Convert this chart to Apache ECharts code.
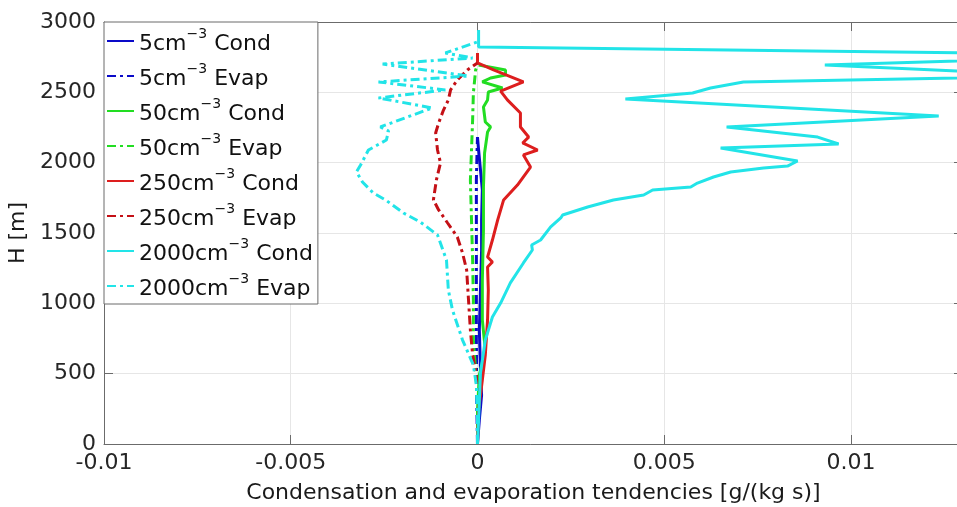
<!DOCTYPE html>
<html>
<head>
<meta charset="utf-8">
<script src="https://cdn.jsdelivr.net/npm/echarts@6/dist/echarts.min.js"></script>
<style>
html,body{margin:0;padding:0;background:#fff;}
#c{width:957px;height:507px;}
</style>
</head>
<body>
<div id="c"></div>
<script>
// ---- data: [tendency (g/(kg s)), height (m)] ----
const cond5 = [[0,0],[0.00005,171],[0.00011,348],[0.00008,526],[0.00005,810],[0.00008,1095],[0.00011,1379],[0.00011,1592],[0.00013,1806],[0.00008,1948],[0.00003,2090],[0,2182]];
const evap5 = [[0,0],[-0.00002,313],[-0.00003,739],[-0.00003,1095],[-0.00003,1521],[-0.00003,1877],[-0.00001,2090],[0,2182]];
const cond50 = [[0,0],[0,242],[0.00005,491],[0.00021,668],[0.00013,882],[0.00013,1166],[0.00016,1521],[0.00016,1827],[0.00019,2069],[0.00027,2218],[0.00035,2254],[0.00021,2289],[0.00016,2396],[0.00027,2446],[0.00029,2502],[0.00067,2531],[0.00013,2574],[0.00035,2602],[0.00075,2623],[0.00075,2659],[0.00003,2694]];
const evap50 = [[0,0],[0,313],[-0.00005,526],[-0.00011,739],[-0.00011,1024],[-0.00013,1308],[-0.00016,1592],[-0.00019,1877],[-0.00016,2090],[-0.00013,2303],[-0.00011,2495],[-0.00005,2659],[0,2694]];
const cond250 = [[0,0],[0.00003,242],[0.00013,455],[0.00021,633],[0.00027,882],[0.00029,1095],[0.00027,1258],[0.0004,1294],[0.00027,1329],[0.0004,1450],[0.00054,1592],[0.0007,1735],[0.00107,1841],[0.00142,1969],[0.00123,2055],[0.00161,2090],[0.00121,2140],[0.00137,2182],[0.00115,2254],[0.00115,2353],[0.0008,2446],[0.00062,2509],[0.00123,2574],[0.00043,2659],[0,2709],[0,2780]];
const evap250 = [[0,0],[0,313],[-0.00003,491],[-0.00013,633],[-0.00019,810],[-0.00024,1024],[-0.00029,1237],[-0.0004,1358],[-0.00054,1472],[-0.0008,1571],[-0.00104,1664],[-0.00118,1735],[-0.0011,1877],[-0.00099,1998],[-0.00107,2090],[-0.00112,2211],[-0.00104,2282],[-0.00091,2374],[-0.00078,2446],[-0.00072,2517],[-0.00054,2588],[-0.00027,2659],[0,2709]];
const cond2000 = [[0,0],[0.00003,171],[0.00008,505],[0.00021,739],[0.0004,903],[0.00062,1002],[0.00088,1145],[0.00123,1287],[0.00147,1379],[0.00145,1415],[0.00169,1450],[0.00196,1543],[0.00223,1607],[0.00228,1628],[0.00295,1685],[0.00364,1735],[0.00445,1770],[0.00469,1806],[0.00571,1827],[0.00589,1855],[0.00632,1898],[0.00678,1934],[0.00766,1962],[0.0083,1976],[0.00857,2012],[0.00651,2104],[0.00967,2133],[0.00911,2182],[0.00667,2254],[0.01235,2332],[0.00396,2453],[0.00576,2495],[0.00624,2531],[0.00712,2574],[0.0158,2616],[0.0093,2694],[0.0179,2765],[0.00003,2822],[0.00003,2943]];
const evap2000 = [[0,0],[0,171],[-0.00003,419],[-0.00011,562],[-0.0004,739],[-0.00067,953],[-0.00078,1095],[-0.00083,1308],[-0.00107,1486],[-0.00153,1578],[-0.00198,1642],[-0.00246,1735],[-0.00279,1784],[-0.00308,1863],[-0.00324,1934],[-0.00313,1983],[-0.00292,2090],[-0.00244,2161],[-0.00238,2225],[-0.0026,2254],[-0.00121,2389],[-0.00265,2460],[-0.00086,2517],[-0.00265,2574],[-0.00024,2616],[-0.00254,2701],[-0.00013,2744],[-0.00086,2780],[0,2858]];

const concentrations = ['5','5','50','50','250','250','2000','2000'];
const kinds = ['Cond','Evap','Cond','Evap','Cond','Evap','Cond','Evap'];
const seriesData = [cond5, evap5, cond50, evap50, cond250, evap250, cond2000, evap2000];
const colors = ['#0a0ac8','#0a0ac8','#22dd22','#22dd22','#dd1e1e','#c41016','#22e4e8','#22e4e8'];
const xTicks = {min:-0.01, max:0.013, interval:0.005};
const yTicks = {min:0, max:3000, interval:500};

const FONT = 'DejaVu Sans';
const names = concentrations.map((c,i)=> c + 'cm-3 ' + kinds[i]);
const dashDot = [9,4,3,4];

const series = seriesData.map((d,i)=>({
  name: names[i],
  type: 'line',
  data: d,
  xAxisIndex: 0, yAxisIndex: 0,
  symbol: 'none', showSymbol: false,
  animation: false,
  clip: true,
  lineStyle: {color: colors[i], width: 3, type: kinds[i]==='Evap' ? dashDot : 'solid'},
  itemStyle: {color: colors[i]},
  z: 2 + i
}));

const axisColor = '#6b6b6b';
const chart = echarts.init(document.getElementById('c'), null, {renderer:'canvas'});
chart.setOption({
  animation: false,
  backgroundColor: '#fff',
  grid: {left:104, top:22, right:-6, bottom:63, containLabel:false, outerBoundsMode:'none'},
  xAxis: [{
    type:'value', position:'bottom', min:xTicks.min, max:xTicks.max, interval:xTicks.interval,
    name:'Condensation and evaporation tendencies [g/(kg s)]', nameLocation:'middle', nameGap:38,
    nameTextStyle:{fontFamily:FONT, fontSize:22, color:'#1a1a1a'},
    axisLine:{show:true, onZero:false, lineStyle:{color:axisColor, width:1}},
    axisTick:{show:true, inside:true, length:9, lineStyle:{color:axisColor}},
    axisLabel:{fontFamily:FONT, fontSize:22, color:'#262626', margin:8, showMaxLabel:false},
    splitLine:{show:true, lineStyle:{color:'#e6e6e6', width:1}}
  },{
    type:'value', position:'top', min:xTicks.min, max:xTicks.max, interval:xTicks.interval,
    axisLine:{show:true, onZero:false, lineStyle:{color:axisColor, width:1}},
    axisTick:{show:true, inside:true, length:9, lineStyle:{color:axisColor}},
    axisLabel:{show:false}, splitLine:{show:false}
  }],
  yAxis: [{
    type:'value', position:'left', min:yTicks.min, max:yTicks.max, interval:yTicks.interval,
    name:'H [m]', nameLocation:'middle', nameGap:54,
    nameTextStyle:{fontFamily:FONT, fontSize:22, color:'#1a1a1a'},
    axisLine:{show:true, onZero:false, lineStyle:{color:axisColor, width:1}},
    axisTick:{show:true, inside:true, length:9, lineStyle:{color:axisColor}},
    axisLabel:{fontFamily:FONT, fontSize:22, color:'#262626', margin:8, formatter:function(v){return String(v);}},
    splitLine:{show:true, lineStyle:{color:'#e6e6e6', width:1}}
  },{
    type:'value', position:'right', min:yTicks.min, max:yTicks.max, interval:yTicks.interval,
    axisLine:{show:true, onZero:false, lineStyle:{color:axisColor, width:1}},
    axisTick:{show:true, inside:true, length:9, lineStyle:{color:axisColor}},
    axisLabel:{show:false}, splitLine:{show:false}
  }],
  legend: {
    show:true, orient:'vertical', left:104, top:22,
    backgroundColor:'#fff', borderColor:'#6b6b6b', borderWidth:1,
    padding:[5,5,4,2], itemGap:7, itemWidth:27, itemHeight:14,
    itemStyle:{color:'rgba(0,0,0,0)', borderWidth:0, opacity:0},
    data: names,
    formatter: function(name){
      const i = names.indexOf(name);
      return '{n|' + concentrations[i] + 'cm}{s|\u22123}{n| ' + kinds[i] + '}';
    },
    textStyle:{
      fontFamily:FONT, fontSize:22, color:'#111',
      rich:{
        n:{fontFamily:FONT, fontSize:22, color:'#111', lineHeight:28, verticalAlign:'bottom'},
        s:{fontFamily:FONT, fontSize:14, color:'#111', lineHeight:14, verticalAlign:'top'}
      }
    }
  },
  series: series
});
</script>
</body>
</html>
